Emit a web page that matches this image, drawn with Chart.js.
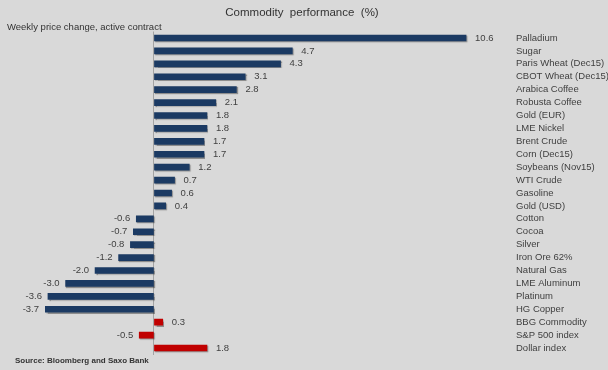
<!DOCTYPE html>
<html>
<head>
<meta charset="utf-8">
<script src="https://cdn.jsdelivr.net/npm/chart.js@4.4.0/dist/chart.umd.min.js"></script>
<style>
  html, body { margin: 0; padding: 0; background: #d9d9d9; }
  #wrap { position: relative; width: 608px; height: 370px; }
</style>
</head>
<body>
<div id="wrap"><canvas id="chart" width="608" height="370"></canvas></div>
<script>
const categories = [
  'Palladium', 'Sugar', 'Paris Wheat (Dec15)', 'CBOT Wheat (Dec15)', 'Arabica Coffee',
  'Robusta Coffee', 'Gold (EUR)', 'LME Nickel', 'Brent Crude', 'Corn (Dec15)',
  'Soybeans (Nov15)', 'WTI Crude', 'Gasoline', 'Gold (USD)', 'Cotton', 'Cocoa',
  'Silver', 'Iron Ore 62%', 'Natural Gas', 'LME Aluminum', 'Platinum', 'HG Copper',
  'BBG Commodity', 'S&P 500 index', 'Dollar index'
];
const weeklyChange = [
  10.6, 4.7, 4.3, 3.1, 2.8, 2.1, 1.8, 1.8, 1.7, 1.7, 1.2, 0.7, 0.6, 0.4,
  -0.6, -0.7, -0.8, -1.2, -2.0, -3.0, -3.6, -3.7, 0.3, -0.5, 1.8
];
const benchmarks = ['BBG Commodity', 'S&P 500 index', 'Dollar index'];

const navy = '#1b3a63';
const red = '#c00000';
const textColor = '#3f3f3f';

const barColors = categories.map(c => benchmarks.includes(c) ? red : navy);

// value labels next to bar ends
const valueLabels = {
  id: 'valueLabels',
  afterDatasetsDraw(chart) {
    const ctx = chart.ctx;
    const meta = chart.getDatasetMeta(0);
    ctx.save();
    ctx.font = '9.5px "Liberation Sans"';
    ctx.fillStyle = textColor;
    ctx.textBaseline = 'middle';
    meta.data.forEach((bar, i) => {
      const v = weeklyChange[i];
      if (v >= 0) {
        ctx.textAlign = 'left';
        ctx.fillText(v.toFixed(1), bar.x + 9, bar.y);
      } else {
        ctx.textAlign = 'right';
        ctx.fillText(v.toFixed(1), bar.x - 6, bar.y);
      }
    });
    ctx.restore();
  }
};

const barShadow = {
  id: 'barShadow',
  beforeDatasetDraw(chart) {
    const ctx = chart.ctx;
    ctx.save();
    ctx.shadowColor = 'rgba(0,0,0,0.35)';
    ctx.shadowOffsetX = 1;
    ctx.shadowOffsetY = 1;
    ctx.shadowBlur = 1;
  },
  afterDatasetDraw(chart) {
    chart.ctx.restore();
  }
};

const headings = {
  id: 'headings',
  afterDraw(chart) {
    const ctx = chart.ctx;
    ctx.save();
    ctx.fillStyle = '#333333';
    ctx.textBaseline = 'middle';
    ctx.font = '11.5px "Liberation Sans"';
    ctx.textAlign = 'center';
    ctx.fillText('Commodity  performance  (%)', 302, 13);
    ctx.font = '9.5px "Liberation Sans"';
    ctx.textAlign = 'left';
    ctx.fillText('Weekly price change, active contract', 7, 27);
    ctx.font = 'bold 8px "Liberation Sans"';
    ctx.fillText('Source: Bloomberg and Saxo Bank', 15, 361);
    ctx.restore();
  }
};

new Chart(document.getElementById('chart'), {
  type: 'bar',
  data: {
    labels: categories,
    datasets: [{
      label: 'Weekly price change',
      data: weeklyChange,
      backgroundColor: barColors,
      borderWidth: 0,
      barThickness: 6
    }]
  },
  options: {
    indexAxis: 'y',
    responsive: false,
    animation: false,
    layout: { padding: { left: 45, top: 31.5, bottom: 15.5, right: 0 } },
    plugins: {
      legend: { display: false },
      title: { display: false },
      tooltip: { enabled: false }
    },
    scales: {
      x: {
        min: -3.7,
        max: 12.16,
        ticks: { display: false, stepSize: 1 },
        border: { display: false },
        grid: {
          drawTicks: false,
          color: ctx => ctx.tick && ctx.tick.value === 0 ? '#a3a3a3' : 'transparent',
          lineWidth: 1
        },
        afterFit(scale) { scale.height = 0; }
      },
      y: {
        position: 'right',
        border: { display: false },
        grid: { display: false, drawTicks: false },
        ticks: {
          padding: 4,
          color: textColor,
          font: { family: 'Liberation Sans', size: 9.5 },
          autoSkip: false
        },
        afterFit(scale) { scale.width = 96; }
      }
    }
  },
  plugins: [barShadow, valueLabels, headings]
});
</script>
</body>
</html>
